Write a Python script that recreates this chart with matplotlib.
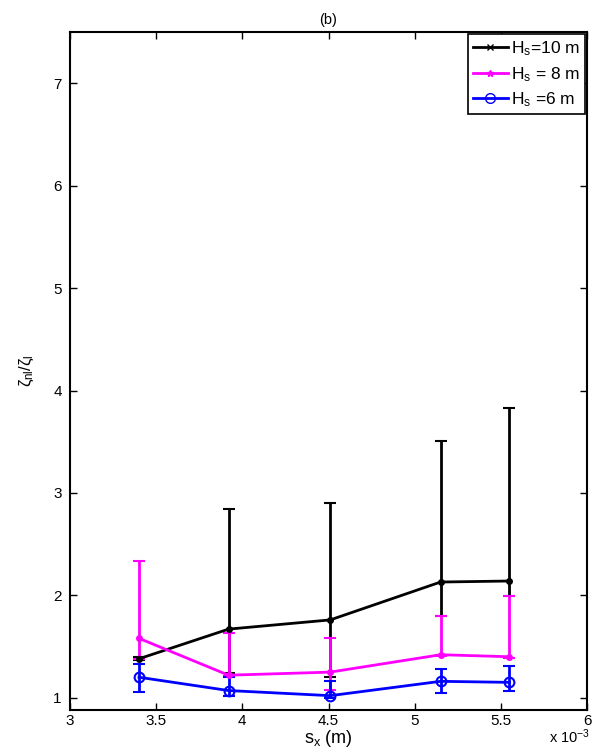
import numpy as np
import matplotlib
matplotlib.use('Agg')
import matplotlib.pyplot as plt
from matplotlib.lines import Line2D

plt.rcParams['font.family'] = ['Liberation Sans', 'DejaVu Sans']
plt.rcParams['mathtext.fontset'] = 'custom'
plt.rcParams['mathtext.rm'] = 'Liberation Sans'
plt.rcParams['mathtext.it'] = 'Liberation Sans'

# sampling step s_x (in units of 1e-3 m)
sx = [3.40, 3.92, 4.51, 5.15, 5.55]

# Hs = 10 m
h10 = [1.38, 1.67, 1.76, 2.13, 2.14]
h10_hi = [1.40, 2.84, 2.90, 3.51, 3.83]
h10_lo = [1.37, 1.24, 1.20, 1.80, 1.99]

# Hs = 8 m
h8 = [1.58, 1.22, 1.25, 1.42, 1.40]
h8_hi = [2.34, 1.63, 1.58, 1.80, 1.99]
h8_lo = [1.38, 1.21, 1.08, 1.41, 1.39]

# Hs = 6 m
h6 = [1.20, 1.07, 1.02, 1.16, 1.15]
h6_hi = [1.33, 1.20, 1.16, 1.28, 1.31]
h6_lo = [1.06, 1.02, 1.00, 1.05, 1.07]

series = [
    (h10, h10_hi, h10_lo, 'k', 'x', 3, r'H$_{\rm s}$=10 m'),
    (h8, h8_hi, h8_lo, '#ff00ff', '*', 4, r'H$_{\rm s}$ = 8 m'),
    (h6, h6_hi, h6_lo, '#0000ff', 'o', 7, r'H$_{\rm s}$ =6 m'),
]

fig = plt.figure(figsize=(5.96, 7.51), dpi=100)
ax = fig.add_axes([0.1174, 0.0546, 0.8676, 0.9024])

handles = []
for y, hi, lo, c, m, ms, lab in series:
    y = np.array(y)
    err = [y - np.array(lo), np.array(hi) - y]
    mfc = 'none' if m == 'o' else c
    ax.errorbar(sx, y, yerr=err, color=c, lw=2, elinewidth=2, capsize=4,
                capthick=2, marker=m if m == 'o' else '.', ms=ms if m == 'o' else 7,
                mew=1.5, mfc=mfc)
    handles.append(Line2D([], [], color=c, lw=2, marker=m,
                          ms=ms if m == 'o' else 5, mew=1, mfc=mfc, label=lab))

ax.set_xlim(3, 6)
ax.set_ylim(0.88, 7.5)
ax.set_xticks([3, 3.5, 4, 4.5, 5, 5.5, 6])
ax.set_xticklabels(['3', '3.5', '4', '4.5', '5', '5.5', '6'])
ax.set_yticks([1, 2, 3, 4, 5, 6, 7])
ax.tick_params(direction='in', top=True, right=True, length=5, width=1,
               labelsize=11)
ax.tick_params(axis='x', pad=3)
ax.tick_params(axis='y', pad=6)
for s in ax.spines.values():
    s.set_linewidth(1.5)

ax.set_title('(b)', fontsize=10.5, pad=6)
ax.set_xlabel(r's$_{\rm x}$ (m)', fontsize=13, labelpad=0)
ax.set_ylabel(r'$\zeta_{\rm nl}/\zeta_{\rm l}$', fontsize=12, labelpad=12)
fig.text(0.99, 0.006, r'x 10$^{-3}$', ha='right', va='bottom', fontsize=10.5)

leg = ax.legend(handles=handles, loc='upper right', fontsize=12.5, frameon=True,
                fancybox=False, borderaxespad=0.1, handlelength=2.0,
                labelspacing=0.4, handletextpad=0.2, borderpad=0.3)
leg.get_frame().set_edgecolor('k')
leg.get_frame().set_linewidth(1.2)
leg.get_frame().set_alpha(1)

fig.savefig('out.png', dpi=100)
